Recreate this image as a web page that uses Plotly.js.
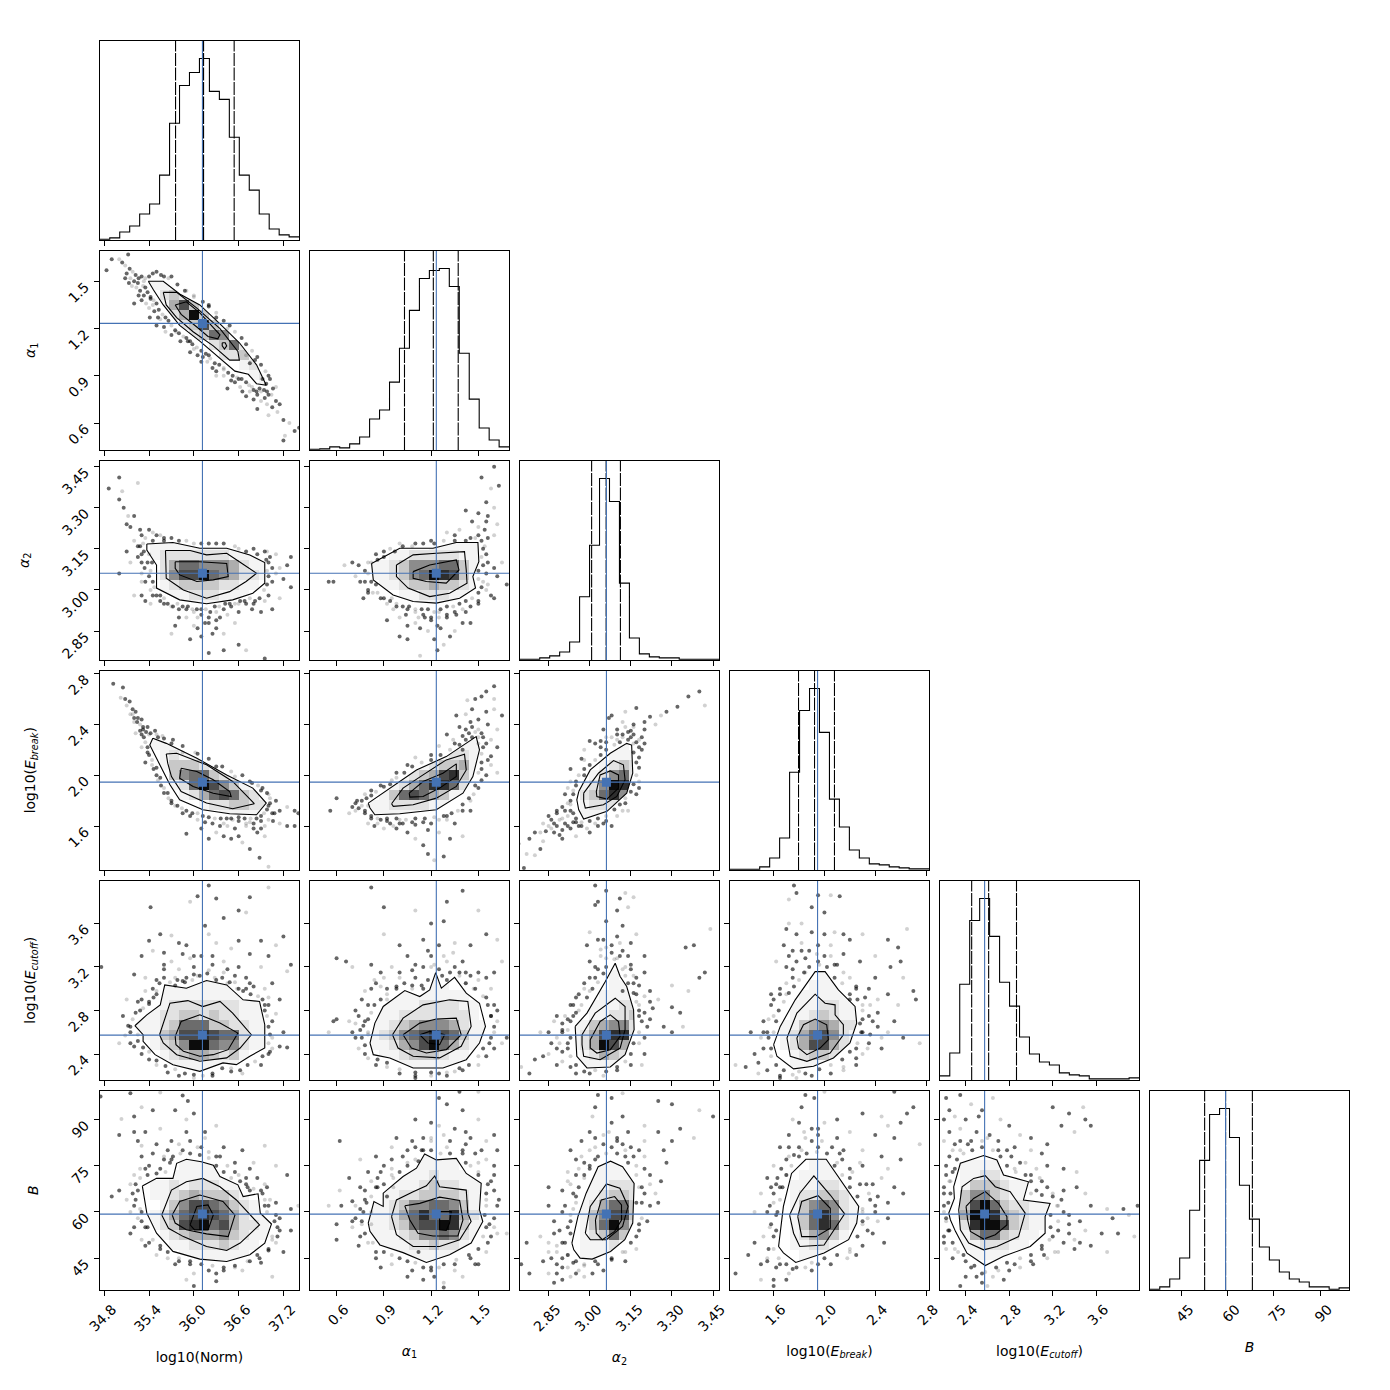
<!DOCTYPE html>
<html>
<head>
<meta charset="utf-8">
<script src="https://cdn.plot.ly/plotly-3.0.1.min.js"></script>
<style>html,body{margin:0;padding:0;background:#fff}</style>
</head>
<body>
<div id="graph"></div>
<script>
// parametros del corner plot
const names = ['log10(Norm)','<i>α</i><sub>1</sub>','<i>α</i><sub>2</sub>','log10(<i>E<sub>break</sub></i>)','log10(<i>E<sub>cutoff</sub></i>)','<i>B</i>'];
const lo = [34.74,0.43,2.745,1.255,2.162,34.7];
const hi = [37.41,1.695,3.472,2.824,3.994,99.4];
const truths = [36.115,1.233,3.061,1.946,2.574,59.3];
const tickVals = [[34.8,35.4,36.0,36.6,37.2],[0.6,0.9,1.2,1.5],[2.85,3.0,3.15,3.3,3.45],[1.6,2.0,2.4,2.8],[2.4,2.8,3.2,3.6],[45,60,75,90]];
const tickText = [['34.8','35.4','36.0','36.6','37.2'],['0.6','0.9','1.2','1.5'],['2.85','3.00','3.15','3.30','3.45'],['1.6','2.0','2.4','2.8'],['2.4','2.8','3.2','3.6'],['45','60','75','90']];

// histogramas (altura relativa, 20 bins)
const hist0 = [2,6,24,42,78,108,195,351,465,504,546,447,423,309,195,150,78,33,15,9];
const hist1 = [2,3,9,6,18,39,93,120,204,306,420,516,540,546,492,291,153,66,30,9];
const hist2 = [2,2,6,12,24,54,190,345,546,477,231,66,18,9,6,6,2,2,2,2];
const hist3 = [2,2,2,9,36,96,294,480,546,414,213,129,60,36,18,15,9,6,3,3];
const hist4 = [12,81,288,480,546,432,294,222,129,78,54,45,21,15,12,3,3,3,3,6];
const hist5 = [2,9,33,96,240,390,528,546,459,315,213,129,90,54,33,24,9,9,2,6];
const quant0 = [35.755,36.13,36.54];
const quant1 = [1.031,1.214,1.372];
const quant2 = [3.007,3.06,3.112];
const quant3 = [1.796,1.922,2.079];
const quant4 = [2.455,2.611,2.867];
const quant5 = [52.5,59.3,68.0];

// densidad 2d: [fila desde arriba, columna inicial, niveles 0-9]
const heat_1_0 = [[3,5,"111"],[4,6,"2321"],[5,6,"14731"],[6,7,"24931"],[7,8,"23731"],[8,9,"23651"],[9,11,"23621"],[10,12,"2231"],[11,14,"121"],[12,15,"12"],[13,16,"1"]];
const heat_2_0 = [[8,5,"11111111111"],[9,5,"12222222111"],[10,6,"24665554211"],[11,5,"125779654221"],[12,6,"1233332211"],[13,6,"111222111"],[14,8,"11111"]];
const heat_2_1 = [[8,12,"11111"],[9,8,"112222211"],[10,6,"11235556631"],[11,6,"11235698731"],[12,7,"1123343321"],[13,9,"1122211"],[14,10,"11111"]];
const heat_3_0 = [[7,5,"111"],[8,6,"1211"],[9,6,"133321"],[10,7,"3566321"],[11,7,"126975311"],[12,8,"124676321"],[13,10,"1223322"],[14,12,"1111"]];
const heat_3_1 = [[7,14,"111"],[8,13,"1221"],[9,11,"123341"],[10,9,"12347831"],[11,8,"124688621"],[12,7,"136764311"],[13,6,"11222211"],[14,6,"11111"]];
const heat_3_2 = [[7,10,"1"],[8,9,"111"],[9,8,"1232"],[10,7,"12562"],[11,6,"125982"],[12,6,"236851"],[13,6,"12221"],[14,6,"111"]];
const heat_4_0 = [[10,6,"11111111"],[11,5,"1111111111"],[12,5,"112222222111"],[13,4,"1122332322111"],[14,3,"11123666332211"],[15,4,"1134778766211"],[16,5,"123599655211"],[17,6,"123443231"],[18,7,"1111111"]];
const heat_4_1 = [[10,12,"11"],[11,8,"11111111"],[12,7,"1111222211"],[13,6,"11122222221"],[14,6,"112345554211"],[15,6,"123567876311"],[16,6,"11245796421"],[17,7,"112333211"],[18,8,"1111111"]];
const heat_4_2 = [[9,9,"1"],[10,9,"11"],[11,8,"1111"],[12,7,"11122"],[13,7,"11223"],[14,5,"1134552"],[15,5,"1247882"],[16,5,"1249741"],[17,6,"124321"],[18,6,"11111"]];
const heat_4_3 = [[9,9,"1"],[10,8,"1111"],[11,7,"111111"],[12,6,"11122111"],[13,6,"11232111"],[14,5,"113454221"],[15,5,"124675211"],[16,5,"12477421"],[17,6,"1233211"],[18,6,"11111"]];
const heat_5_0 = [[7,8,"1111"],[8,7,"111111"],[9,5,"1121222111"],[10,5,"1123433321"],[11,6,"1357765321"],[12,5,"124678764211"],[13,5,"123789674221"],[14,6,"12344453211"],[15,7,"112223211"],[16,8,"1111111"]];
const heat_5_1 = [[6,11,"11"],[7,10,"11111"],[8,8,"111121111"],[9,7,"11112322111"],[10,7,"11223333211"],[11,6,"112355665311"],[12,6,"112468668421"],[13,6,"112367798311"],[14,6,"11123556521"],[15,7,"111223221"],[16,9,"111111"]];
const heat_5_2 = [[7,8,"1111"],[8,7,"111111"],[9,7,"112221"],[10,6,"1123321"],[11,6,"1246631"],[12,6,"1357731"],[13,6,"1369521"],[14,6,"123631"],[15,6,"111211"],[16,6,"1111"]];
const heat_5_3 = [[7,8,"111"],[8,7,"11111"],[9,6,"1112211"],[10,6,"12233211"],[11,6,"13565211"],[12,6,"1368521"],[13,6,"1368621"],[14,6,"124531"],[15,6,"11221"],[16,7,"111"]];
const heat_5_4 = [[7,2,"1111"],[8,2,"11221"],[9,2,"1333211"],[10,2,"35532111"],[11,2,"379632211"],[12,2,"499843211"],[13,2,"289973211"],[14,2,"14663211"],[15,2,"1122211"],[16,3,"1111"]];

// contornos
const cont_1_0 = [
 [[35.39,1.5],[35.59,1.5],[35.81,1.42],[36.08,1.35],[36.35,1.23],[36.61,1.11],[36.84,.97],[36.97,.84],[36.84,.85],[36.73,.91],[36.55,.93],[36.3,1.03],[36.08,1.12],[35.81,1.22],[35.59,1.35],[35.46,1.445],[35.39,1.5]],
 [[35.59,1.43],[35.77,1.43],[36.04,1.33],[36.35,1.2],[36.59,1.055],[36.61,1.0],[36.48,1.0],[36.26,1.09],[35.99,1.18],[35.77,1.27],[35.63,1.35],[35.59,1.43]],
 [[35.75,1.35],[35.9,1.37],[36.08,1.3],[36.21,1.234],[36.35,1.16],[36.32,1.135],[36.19,1.15],[36.04,1.21],[35.83,1.29],[35.75,1.35]],
 [[36.38,1.11],[36.42,1.11],[36.44,1.09],[36.41,1.07],[36.38,1.09],[36.38,1.11]]];
const cont_2_0 = [
 [[35.37,3.168],[35.72,3.173],[36.08,3.152],[36.44,3.152],[36.75,3.128],[36.95,3.1],[36.95,3.025],[36.79,2.988],[36.52,2.964],[36.17,2.95],[35.81,2.964],[35.5,3.007],[35.5,3.091],[35.37,3.146],[35.37,3.168]],
 [[35.62,3.144],[35.95,3.144],[36.17,3.128],[36.44,3.134],[36.61,3.103],[36.84,3.061],[36.7,3.031],[36.48,2.994],[36.17,2.97],[35.86,3.0],[35.63,3.043],[35.62,3.144]],
 [[35.75,3.103],[36.08,3.103],[36.44,3.097],[36.46,3.049],[36.26,3.037],[36.04,3.031],[35.81,3.055],[35.75,3.079],[35.75,3.103]]];
const cont_2_1 = [
 [[.822,3.097],[1.001,3.152],[1.212,3.152],[1.36,3.173],[1.497,3.173],[1.503,3.103],[1.465,3.049],[1.482,3.007],[1.381,2.97],[1.233,2.952],[1.086,2.958],[.959,2.982],[.833,3.037],[.822,3.097]],
 [[.98,3.091],[1.086,3.128],[1.233,3.134],[1.412,3.14],[1.423,3.073],[1.428,3.025],[1.317,2.988],[1.191,2.976],[1.054,3.007],[.98,3.049],[.98,3.091]],
 [[1.086,3.067],[1.191,3.091],[1.36,3.11],[1.377,3.073],[1.296,3.025],[1.17,3.031],[1.086,3.043],[1.086,3.067]]];
const cont_3_0 = [
 [[35.45,2.291],[35.63,2.251],[36.04,2.134],[36.44,2.003],[36.79,1.899],[36.97,1.781],[36.84,1.689],[36.48,1.697],[36.12,1.728],[35.81,1.807],[35.68,1.925],[35.5,2.134],[35.41,2.238],[35.45,2.291]],
 [[35.63,2.168],[35.77,2.173],[36.17,2.082],[36.52,1.951],[36.81,1.776],[36.52,1.736],[36.17,1.781],[35.83,1.872],[35.7,1.99],[35.65,2.095],[35.63,2.168]],
 [[35.83,2.055],[36.04,2.029],[36.26,1.964],[36.48,1.872],[36.5,1.833],[36.26,1.859],[35.99,1.912],[35.81,1.977],[35.83,2.055]]];
const cont_3_1 = [
 [[.801,1.781],[.938,1.899],[1.107,2.042],[1.296,2.147],[1.486,2.304],[1.507,2.2],[1.465,1.99],[1.402,1.859],[1.233,1.728],[1.001,1.697],[.843,1.689],[.812,1.742],[.801,1.781]],
 [[.949,1.776],[1.022,1.899],[1.149,2.003],[1.296,2.121],[1.412,2.165],[1.423,2.042],[1.36,1.912],[1.233,1.82],[1.086,1.768],[.96,1.755],[.949,1.776]],
 [[1.061,1.859],[1.149,1.951],[1.275,2.016],[1.36,2.09],[1.36,1.99],[1.254,1.899],[1.149,1.833],[1.065,1.828],[1.061,1.859]]];
const cont_3_2 = [
 [[2.96,1.872],[3.002,2.042],[3.075,2.173],[3.135,2.251],[3.153,2.238],[3.157,2.016],[3.135,1.859],[3.063,1.716],[2.978,1.655],[2.96,1.728],[2.953,1.807],[2.96,1.872]],
 [[2.978,1.859],[3.032,2.016],[3.087,2.116],[3.123,2.082],[3.129,1.964],[3.099,1.833],[3.05,1.768],[2.984,1.742],[2.978,1.794],[2.978,1.859]],
 [[3.024,1.872],[3.038,2.003],[3.075,2.034],[3.105,2.003],[3.105,1.899],[3.063,1.812],[3.026,1.833],[3.024,1.872]]];
const cont_4_0 = [
 [[35.21,2.66],[35.37,2.76],[35.55,2.852],[35.61,3.035],[35.9,3.005],[36.17,3.075],[36.44,3.035],[36.66,2.898],[36.88,2.883],[36.95,2.669],[36.95,2.455],[36.75,2.379],[36.57,2.302],[36.39,2.318],[36.08,2.241],[35.72,2.302],[35.48,2.394],[35.32,2.516],[35.32,2.577],[35.21,2.66]],
 [[35.54,2.577],[35.68,2.867],[35.92,2.891],[36.12,2.836],[36.35,2.883],[36.52,2.776],[36.77,2.577],[36.62,2.455],[36.44,2.364],[36.08,2.333],[35.77,2.394],[35.59,2.501],[35.54,2.577]],
 [[35.75,2.562],[35.83,2.699],[36.08,2.76],[36.35,2.684],[36.59,2.592],[36.46,2.44],[36.26,2.394],[36.08,2.379],[35.86,2.425],[35.76,2.486],[35.75,2.562]]];
const cont_4_1 = [
 [[.812,2.501],[.843,2.684],[.896,2.837],[1.033,2.983],[1.128,2.928],[1.191,2.989],[1.229,3.148],[1.265,3.005],[1.349,3.105],[1.423,2.959],[1.507,2.867],[1.545,2.654],[1.507,2.501],[1.423,2.348],[1.275,2.272],[1.086,2.272],[.938,2.364],[.833,2.394],[.812,2.501]],
 [[.955,2.577],[1.022,2.73],[1.149,2.852],[1.317,2.898],[1.433,2.883],[1.454,2.654],[1.391,2.471],[1.254,2.364],[1.086,2.379],[.99,2.455],[.955,2.577]],
 [[1.022,2.577],[1.128,2.684],[1.233,2.721],[1.36,2.73],[1.391,2.577],[1.296,2.44],[1.17,2.409],[1.075,2.455],[1.022,2.577]],
 [[1.128,2.577],[1.191,2.608],[1.286,2.577],[1.254,2.486],[1.18,2.501],[1.128,2.577]]];
const cont_4_2 = [
 [[2.947,2.654],[2.99,2.776],[3.057,3.066],[3.093,3.234],[3.111,3.112],[3.135,3.02],[3.16,2.806],[3.162,2.623],[3.129,2.394],[3.075,2.281],[2.99,2.272],[2.953,2.379],[2.947,2.654]],
 [[2.972,2.577],[3.02,2.776],[3.093,2.913],[3.129,2.837],[3.129,2.623],[3.111,2.455],[3.038,2.348],[2.978,2.379],[2.972,2.486],[2.972,2.577]],
 [[3.002,2.531],[3.038,2.699],[3.075,2.76],[3.105,2.699],[3.111,2.562],[3.075,2.44],[3.026,2.409],[3.002,2.455],[3.002,2.531]]];
const cont_4_3 = [
 [[1.6,2.486],[1.652,2.654],[1.77,2.898],[1.875,3.066],[1.927,3.157],[2.005,3.157],[2.11,2.989],[2.241,2.837],[2.254,2.684],[2.201,2.501],[2.071,2.363],[1.914,2.287],[1.757,2.263],[1.626,2.379],[1.6,2.486]],
 [[1.705,2.547],[1.783,2.776],[1.927,2.95],[2.005,2.867],[2.084,2.852],[2.084,2.76],[2.149,2.669],[2.149,2.577],[2.045,2.409],[1.862,2.333],[1.731,2.379],[1.705,2.547]],
 [[1.783,2.547],[1.835,2.669],[1.927,2.721],[2.018,2.669],[2.031,2.531],[1.966,2.455],[1.862,2.394],[1.796,2.455],[1.783,2.547]]];
const cont_5_0 = [
 [[35.31,68.4],[35.5,70.9],[35.72,70.9],[35.77,75.8],[35.9,77.1],[36.1,76.3],[36.26,75.2],[36.35,71.5],[36.59,68.8],[36.66,65],[36.86,65.9],[36.89,59.6],[37.04,56.1],[36.95,49.9],[36.75,46.1],[36.44,43.9],[36.08,44.7],[35.72,47.2],[35.5,53.1],[35.37,59.6],[35.31,68.4]],
 [[35.57,59],[35.7,67.1],[35.9,69.8],[36.12,70.9],[36.35,68.2],[36.57,63.9],[36.88,55.8],[36.62,49.9],[36.44,47.5],[36.17,48.8],[35.86,52],[35.66,54.7],[35.57,59]],
 [[35.71,59],[35.81,63.4],[36.08,65.5],[36.39,63.4],[36.55,59],[36.46,52],[36.17,52.9],[35.9,54.2],[35.75,56.4],[35.71,59]],
 [[35.95,55.8],[36.04,61.8],[36.19,62.3],[36.26,59],[36.19,54.2],[36.01,54.2],[35.95,55.8]]];
const cont_5_1 = [
 [[.801,56.4],[.837,63.4],[.896,61.8],[.896,66.1],[1.022,71.5],[1.107,74.2],[1.159,78.8],[1.233,76.9],[1.36,77.4],[1.423,72.5],[1.518,69.3],[1.507,60.7],[1.528,56.9],[1.454,49.9],[1.317,46.1],[1.17,43.6],[1.022,46.8],[.875,49.3],[.812,53.7],[.801,56.4]],
 [[.949,58.5],[.98,63.9],[1.086,66.6],[1.17,68.5],[1.223,71.7],[1.254,68.2],[1.423,67.1],[1.433,59.6],[1.454,56.9],[1.381,51],[1.254,48.8],[1.086,48.8],[.98,52.6],[.949,58.5]],
 [[1.033,62],[1.128,62.8],[1.254,64.8],[1.381,63.7],[1.402,57.4],[1.37,52.2],[1.212,52.2],[1.117,53.1],[1.065,57.4],[1.033,62]],
 [[1.254,60.1],[1.328,60.1],[1.317,56.4],[1.296,54],[1.254,54.2],[1.254,60.1]]];
const cont_5_2 = [
 [[2.935,49.9],[2.957,58.5],[2.987,66.1],[3.031,74.7],[3.076,76.5],[3.12,74.7],[3.162,69.3],[3.16,59.6],[3.157,56.4],[3.128,51],[3.076,47.2],[3.009,44.7],[2.965,45],[2.942,47.7],[2.935,49.9]],
 [[2.984,53.1],[3.002,61.8],[3.061,69.1],[3.11,67.7],[3.14,61.8],[3.12,55.3],[3.061,51],[3.002,51],[2.984,53.1]],
 [[3.021,57.4],[3.042,63.9],[3.091,65],[3.116,62.3],[3.116,57.4],[3.091,53.7],[3.046,51],[3.024,53.1],[3.021,57.4]]];
const cont_5_3 = [
 [[1.639,48.8],[1.677,61.8],[1.741,72.5],[1.854,77.1],[2.014,77.1],[2.126,70.4],[2.27,61.8],[2.254,56.4],[2.19,51],[1.997,46.7],[1.774,43.6],[1.677,46.7],[1.639,48.8]],
 [[1.726,59],[1.806,66.1],[1.917,71.7],[2.046,65.5],[2.159,59.4],[2.061,53.1],[1.997,49.3],[1.806,48.8],[1.757,53.1],[1.726,59]],
 [[1.79,58.5],[1.821,63.4],[1.95,65.3],[2.046,61.2],[2.046,54.7],[1.934,52],[1.821,52],[1.79,58.5]]];
const cont_5_4 = [
 [[2.244,59.6],[2.296,64.4],[2.29,68.2],[2.351,75.8],[2.565,78.3],[2.687,76.9],[2.748,72],[2.977,69.8],[2.931,63.9],[3.176,62.8],[3.13,58.5],[3.13,53.1],[2.993,48.8],[2.748,45.6],[2.58,42.6],[2.412,46.6],[2.306,53.7],[2.26,57.4],[2.244,59.6]],
 [[2.336,60.7],[2.367,68.2],[2.473,70.9],[2.58,71.8],[2.672,68.2],[2.809,66.6],[2.947,59.6],[2.886,52],[2.687,48.8],[2.565,47.7],[2.428,49.9],[2.351,54.2],[2.336,60.7]],
 [[2.403,61.8],[2.473,64.4],[2.58,66.6],[2.702,62.8],[2.779,58.5],[2.779,55.8],[2.672,52.6],[2.565,51.2],[2.443,53.7],[2.418,57.4],[2.403,61.8]]];

// puntos fuera del contorno externo
const pts_1_0 = [[34.9,1.64],[35.12,1.67],[35.0,1.64],[35.04,1.62],[34.83,1.57],[35.08,1.6],[35.14,1.58],[35.1,1.55],[35.18,1.56],[35.22,1.54],[35.2,1.5],[35.15,1.52],[35.26,1.52],[35.3,1.53],[35.35,1.52],[35.13,1.49],[35.08,1.52],[35.23,1.46],[35.28,1.44],[35.33,1.41],[35.36,1.36],[35.2,1.36],[35.42,1.39],[35.4,1.33],[35.47,1.31],[35.52,1.27],[35.55,1.26],[35.6,1.21],[35.7,1.16],[35.76,1.18],[35.82,1.12],[35.9,1.14],[36.0,1.07],[36.05,1.03],[36.1,.99],[36.18,.99],[36.25,.95],[36.3,.93],[36.4,.9],[36.5,.87],[36.55,.86],[36.62,.83],[36.65,.8],[36.7,.77],[36.75,.8],[36.8,.75],[36.85,.78],[36.9,.74],[36.95,.76],[37.0,.78],[36.98,.72],[37.05,.7],[37.1,.74],[37.12,.67],[37.15,.72],[37.2,.62],[37.28,.6],[37.35,.55],[37.41,.57],[37.22,.52],[37.2,.49],[36.97,.85],[37.1,.83],[37.02,.88],[36.92,.88],[36.7,1.03],[36.75,.98],[36.82,1.0],[36.45,1.2],[36.3,1.27],[36.2,1.35],[35.9,1.44],[35.7,1.53],[35.5,1.56],[36.0,1.4],[35.6,1.53],[35.45,1.55],[35.32,1.47],[35.41,1.27],[35.5,1.22],[35.62,1.18],[35.95,1.05],[36.12,1.02],[36.3,.9],[36.45,.82],[36.6,.88],[36.78,.83],[36.88,.82],[36.85,.69],[37.0,.65],[35.95,1.12],[36.2,1.03],[36.4,.95]];
const pts_2_0 = [[34.86,3.37],[35.0,3.41],[35.04,3.36],[35.0,3.33],[35.06,3.3],[35.12,3.27],[35.1,3.24],[35.15,3.23],[35.25,3.39],[35.2,3.27],[35.28,3.22],[35.35,3.19],[35.3,3.2],[35.4,3.22],[35.45,3.21],[35.5,3.2],[35.6,3.19],[35.55,3.2],[35.7,3.19],[35.8,3.18],[36.0,3.17],[36.2,3.17],[36.4,3.17],[36.6,3.15],[36.8,3.15],[36.95,3.14],[35.2,3.18],[35.1,3.14],[35.0,3.06],[35.15,3.1],[35.25,3.12],[35.3,3.1],[35.3,3.06],[35.35,3.03],[35.4,3.05],[35.42,3.0],[35.45,2.98],[35.3,2.98],[35.2,2.98],[35.55,2.96],[35.6,2.95],[35.7,2.94],[35.8,2.93],[35.9,2.93],[36.0,2.92],[36.1,2.91],[36.2,2.9],[36.3,2.92],[36.4,2.93],[36.5,2.94],[36.6,2.95],[36.7,2.95],[36.8,2.95],[36.95,2.96],[37.0,2.98],[37.05,3.03],[37.1,3.06],[37.0,3.1],[37.05,3.08],[37.15,3.08],[37.25,3.09],[37.3,3.12],[37.1,3.13],[37.2,3.04],[37.3,3.01],[37.15,2.97],[37.05,2.93],[36.9,2.92],[36.0,2.87],[36.1,2.83],[36.3,2.86],[36.4,2.84],[36.4,2.78],[36.6,2.8],[36.55,2.88],[35.95,2.82],[36.2,2.77],[36.7,2.78],[36.95,2.75],[35.75,2.87],[35.7,2.84],[36.15,2.88],[36.25,2.84]];
const pts_2_1 = [[1.6,3.45],[1.63,3.38],[1.58,3.37],[1.52,3.41],[1.55,3.32],[1.6,3.3],[1.5,3.28],[1.55,3.25],[1.62,3.24],[1.46,3.25],[1.42,3.29],[1.38,3.22],[1.5,3.2],[1.56,3.19],[1.6,3.2],[1.45,3.19],[1.35,3.2],[1.3,3.21],[1.2,3.18],[1.1,3.17],[1.0,3.17],[.9,3.14],[.85,3.13],[.8,3.1],[.74,3.09],[.7,3.1],[.65,3.09],[.55,3.03],[.58,3.03],[.72,3.05],[.78,3.03],[.8,3.0],[.83,2.99],[.77,2.97],[.88,2.97],[.92,2.95],[.98,2.94],[1.05,2.93],[1.1,2.92],[1.15,2.91],[1.2,2.9],[1.25,2.92],[1.3,2.9],[1.35,2.92],[1.4,2.93],[1.45,2.94],[1.5,2.96],[1.55,3.0],[1.58,2.98],[1.6,2.97],[1.53,3.03],[1.55,3.06],[1.6,3.08],[1.65,3.1],[1.62,3.05],[1.55,3.13],[1.54,3.16],[1.68,3.02],[1.13,2.86],[1.18,2.85],[1.22,2.82],[1.26,2.86],[1.35,2.85],[1.4,2.88],[1.05,2.87],[1.0,2.9],[.92,2.89],[1.05,2.82],[1.13,2.76],[1.16,2.72],[1.24,2.78],[1.28,2.8],[1.32,2.83],[1.45,2.88],[.95,2.97],[1.0,2.83]];
const pts_3_0 = [[34.92,2.72],[35.05,2.69],[35.02,2.61],[35.08,2.6],[35.14,2.58],[35.1,2.55],[35.18,2.52],[35.22,2.5],[35.15,2.48],[35.25,2.45],[35.3,2.44],[35.2,2.42],[35.32,2.38],[35.38,2.38],[35.22,2.33],[35.3,2.32],[35.42,2.33],[35.5,2.32],[35.6,2.29],[35.7,2.25],[35.85,2.18],[36.05,2.17],[36.3,2.07],[36.55,1.99],[36.75,1.95],[36.9,1.88],[35.3,2.22],[35.38,2.18],[35.35,2.1],[35.44,2.08],[35.5,2.0],[35.55,1.98],[35.6,1.9],[35.65,1.86],[35.7,1.8],[35.75,1.76],[35.85,1.7],[35.95,1.68],[36.05,1.65],[36.15,1.63],[36.25,1.62],[36.4,1.62],[36.5,1.66],[36.6,1.64],[36.7,1.62],[36.8,1.62],[36.9,1.64],[37.0,1.65],[37.05,1.7],[37.02,1.78],[37.0,1.85],[37.1,1.8],[37.15,1.72],[37.25,1.75],[37.35,1.72],[37.4,1.7],[37.15,1.62],[37.25,1.6],[37.35,1.6],[36.95,1.6],[36.6,1.52],[36.5,1.5],[36.3,1.55],[36.2,1.5],[36.4,1.52],[36.65,1.47],[36.75,1.42],[36.88,1.35],[37.0,1.28],[35.9,1.54],[36.85,1.55],[36.95,1.52],[36.1,1.58],[36.55,1.58]];
const pts_3_1 = [[1.6,2.7],[1.55,2.66],[1.6,2.6],[1.52,2.62],[1.48,2.6],[1.43,2.59],[1.46,2.52],[1.55,2.5],[1.6,2.52],[1.65,2.47],[1.5,2.44],[1.42,2.48],[1.45,2.42],[1.56,2.4],[1.62,2.36],[1.36,2.47],[1.38,2.38],[1.48,2.34],[1.4,2.31],[1.53,2.3],[1.58,2.28],[1.62,2.22],[1.3,2.32],[1.25,2.23],[1.35,2.25],[1.2,2.16],[1.1,2.14],[1.05,2.08],[.98,2.02],[.95,1.96],[.88,1.92],[.82,1.88],[.78,1.85],[.76,1.8],[.7,1.75],[.68,1.7],[.6,1.82],[.56,1.72],[.72,1.72],[.78,1.7],[.82,1.68],[.8,1.62],[.88,1.65],[.92,1.64],[1.0,1.65],[1.08,1.63],[1.15,1.63],[1.25,1.65],[1.3,1.68],[1.4,1.72],[1.45,1.8],[1.5,1.9],[1.55,2.0],[1.58,2.08],[1.52,2.05],[1.58,2.15],[1.62,2.02],[1.45,1.72],[1.35,1.62],[.9,1.58],[.98,1.58],[1.05,1.55],[1.1,1.5],[1.15,1.45],[1.18,1.38],[1.22,1.33],[1.28,1.36],[1.32,1.5],[1.4,1.52],[1.02,1.62],[1.18,1.57],[1.25,1.55]];
const pts_3_2 = [[3.4,2.66],[3.36,2.62],[3.42,2.55],[3.32,2.54],[3.28,2.5],[3.26,2.47],[3.22,2.46],[3.2,2.42],[3.13,2.5],[3.08,2.47],[3.17,2.53],[3.24,2.4],[3.2,2.36],[3.16,2.4],[3.12,2.42],[3.07,2.45],[3.15,2.3],[3.18,2.28],[3.14,2.34],[3.1,2.36],[3.06,2.3],[3.05,2.36],[3.02,2.25],[2.98,2.2],[2.97,2.13],[2.93,2.05],[2.98,2.12],[3.0,2.27],[2.95,1.95],[2.92,1.9],[2.93,1.8],[2.93,1.72],[2.9,1.66],[2.88,1.6],[2.85,1.68],[2.83,1.62],[2.8,1.55],[2.87,1.55],[2.83,1.48],[2.78,1.5],[2.82,1.42],[2.77,1.38],[2.76,1.27],[2.74,1.46],[2.8,1.37],[2.92,1.6],[2.96,1.6],[2.99,1.58],[3.03,1.6],[3.06,1.64],[3.1,1.68],[3.13,1.78],[3.17,1.85],[3.18,1.95],[3.17,2.1],[3.19,2.2],[3.16,2.25],[3.12,2.32],[3.0,1.55],[2.95,1.52],[3.08,1.6],[2.9,1.5],[3.14,1.72],[2.95,1.63],[2.91,1.72],[2.94,1.88],[2.98,2.0],[3.04,2.22],[3.1,2.28],[3.16,2.18],[2.88,1.7],[2.86,1.58],[2.9,1.57]];
const pts_4_0 = [[35.42,3.75],[36.2,3.95],[37.0,3.93],[36.75,3.84],[36.05,3.85],[35.95,3.8],[36.3,3.83],[36.6,3.72],[36.7,3.7],[36.4,3.65],[36.15,3.58],[36.2,3.5],[35.4,3.44],[35.55,3.5],[35.7,3.49],[35.8,3.42],[35.9,3.4],[36.3,3.42],[36.6,3.44],[36.9,3.44],[37.1,3.4],[37.2,3.48],[35.3,3.3],[35.45,3.35],[35.6,3.33],[36.0,3.3],[36.5,3.37],[36.75,3.32],[37.0,3.3],[37.25,3.16],[37.3,3.22],[35.2,3.13],[35.35,3.1],[35.5,3.08],[35.6,3.18],[35.75,3.1],[35.85,3.07],[36.0,3.13],[36.2,3.17],[36.3,3.08],[36.45,3.18],[36.55,3.06],[36.7,3.1],[36.8,3.02],[36.9,3.2],[37.05,3.05],[37.15,2.9],[37.0,2.92],[36.95,2.8],[37.05,2.7],[37.1,2.77],[35.4,2.88],[35.25,2.88],[35.1,2.9],[35.05,2.75],[35.15,2.65],[35.08,2.57],[35.15,2.5],[35.2,2.47],[35.0,2.5],[35.3,2.4],[35.4,2.35],[35.5,2.3],[35.65,2.23],[35.8,2.2],[36.0,2.18],[36.25,2.2],[36.5,2.24],[36.65,2.22],[36.9,2.3],[37.0,2.4],[37.05,2.45],[37.15,2.47],[37.25,2.46],[37.05,2.55],[37.2,2.6],[36.7,3.0],[36.4,3.15],[35.75,3.03],[35.9,3.1],[36.05,3.12],[36.6,3.0],[35.5,2.95],[35.35,2.98],[34.76,3.2]];
const pts_4_1 = [[.82,3.93],[.9,3.75],[1.1,3.72],[1.3,3.8],[1.4,3.9],[1.5,3.72],[1.28,3.62],[1.2,3.6],[.9,3.5],[1.0,3.4],[1.15,3.45],[1.35,3.42],[1.45,3.4],[1.55,3.5],[1.62,3.45],[.6,3.28],[.66,3.25],[.7,3.2],[.82,3.22],[.88,3.15],[.95,3.2],[1.08,3.17],[1.2,3.3],[1.3,3.25],[1.35,3.2],[1.42,3.15],[1.5,3.08],[1.55,3.1],[1.6,3.15],[1.65,3.25],[.85,3.05],[.92,3.0],[1.0,3.1],[1.08,3.03],[1.15,3.0],[1.2,3.2],[1.3,3.08],[1.38,3.15],[1.47,3.0],[1.55,2.92],[1.6,2.85],[.78,2.98],[.8,2.85],[.72,2.8],[.68,2.7],[.75,2.62],[.78,2.7],[.8,2.6],[.72,2.55],[.6,2.72],[.74,2.45],[.78,2.4],[.85,2.3],[.92,2.28],[1.0,2.22],[1.1,2.18],[1.2,2.2],[1.3,2.2],[1.4,2.25],[1.5,2.3],[1.55,2.38],[1.6,2.45],[1.65,2.5],[1.58,2.55],[1.6,2.65],[1.62,2.7],[1.68,2.55],[1.58,2.75],[.92,2.9],[.98,3.02],[1.25,3.18],[1.42,3.05],[1.1,3.1],[.58,2.7],[.55,2.6]];
const pts_4_2 = [[3.02,3.95],[3.06,3.9],[3.13,3.88],[3.11,3.83],[3.03,3.8],[3.16,3.84],[3.02,3.77],[3.1,3.72],[3.14,3.75],[3.06,3.62],[3.12,3.58],[3.0,3.52],[2.99,3.4],[3.03,3.45],[3.06,3.38],[3.1,3.48],[3.15,3.42],[3.17,3.5],[3.2,3.3],[3.12,3.35],[3.04,3.3],[3.0,3.25],[3.03,3.18],[3.1,3.28],[3.15,3.22],[3.2,3.15],[3.16,3.12],[3.02,3.1],[2.98,3.05],[3.0,2.98],[2.96,2.95],[2.94,2.85],[3.12,3.18],[3.16,3.05],[3.17,2.95],[3.18,2.85],[3.18,2.75],[3.22,2.88],[3.25,2.9],[3.3,2.83],[3.33,2.78],[3.36,2.98],[3.4,3.1],[3.42,3.15],[3.44,3.55],[3.38,3.4],[3.35,3.38],[3.3,3.03],[3.27,2.65],[3.3,2.6],[3.34,2.65],[3.2,2.55],[3.2,2.4],[3.19,2.3],[3.15,2.3],[3.1,2.25],[3.05,2.2],[3.0,2.22],[2.95,2.22],[2.9,2.33],[2.88,2.45],[2.92,2.5],[2.88,2.55],[2.9,2.62],[2.85,2.6],[2.82,2.6],[2.92,2.72],[2.94,2.75],[2.87,2.7],[2.8,2.35],[2.83,2.38],[2.75,2.28],[2.78,2.22],[2.88,2.75],[2.96,2.8],[3.22,2.98],[3.12,2.98]];
const pts_4_3 = [[1.76,3.95],[1.78,3.88],[1.72,3.82],[1.9,3.75],[1.95,3.86],[2.05,3.86],[2.12,3.85],[2.0,3.7],[1.72,3.6],[1.7,3.55],[1.78,3.5],[1.82,3.6],[1.9,3.52],[2.0,3.5],[2.08,3.52],[2.15,3.5],[2.2,3.45],[2.3,3.5],[2.5,3.45],[2.58,3.38],[2.65,3.55],[1.68,3.4],[1.75,3.35],[1.82,3.42],[1.88,3.35],[1.95,3.4],[2.05,3.4],[2.15,3.32],[2.28,3.25],[2.4,3.3],[2.52,3.2],[2.6,3.25],[1.62,3.25],[1.7,3.2],[1.78,3.25],[1.85,3.15],[1.95,3.25],[2.1,3.22],[2.2,3.1],[2.25,3.02],[2.35,3.0],[2.42,2.9],[2.5,2.95],[2.4,3.1],[2.62,3.1],[2.7,2.98],[2.72,2.9],[2.58,2.85],[2.35,2.75],[2.42,2.65],[2.5,2.6],[2.55,2.7],[2.62,2.55],[2.75,2.5],[2.45,2.45],[2.35,2.5],[2.3,2.4],[2.25,2.45],[2.25,2.3],[2.15,2.25],[2.05,2.22],[1.9,2.2],[1.78,2.18],[1.65,2.2],[1.55,2.25],[1.48,2.22],[1.38,2.28],[1.45,2.4],[1.5,2.55],[1.55,2.6],[1.52,2.7],[1.6,2.75],[1.6,2.9],[1.65,3.0],[1.7,2.95],[1.75,3.1],[2.2,2.9],[2.3,2.85],[2.3,2.6],[1.42,2.6],[1.3,2.3]];
const pts_5_0 = [[34.75,97.5],[35.15,98.5],[35.55,98.8],[35.85,97.8],[35.92,96],[35.3,94],[35.45,93],[35.75,93],[35.9,90],[36.0,92],[35.2,91],[35.03,90.2],[35.2,86],[35.35,86],[35.55,87],[35.9,86],[36.15,86],[36.3,88],[35.0,85],[35.25,83],[35.3,81.5],[35.5,82],[35.7,83],[36.05,81],[36.4,81],[36.65,80],[36.95,81.5],[35.3,78],[35.45,79],[35.6,78],[35.7,77],[35.85,80],[36.2,79.5],[36.35,78],[36.55,76],[36.8,76],[36.75,74],[36.55,73],[37.1,75],[36.85,71],[37.25,72],[36.6,72],[36.7,69],[36.9,67],[36.95,64],[37.0,62],[37.1,63],[36.95,69],[36.75,67],[37.3,61],[37.4,62],[37.1,59],[37.15,54],[37.05,52],[37.0,48],[36.85,46],[37.1,50],[37.2,47],[37.3,54],[35.28,74],[35.4,75],[35.55,74],[35.15,69],[35.0,67],[34.9,65],[35.1,64],[35.2,62],[35.3,60],[35.25,58],[35.35,55],[35.15,53],[35.3,51],[35.4,50],[35.55,48],[35.65,45],[35.8,44],[35.95,43],[36.0,40],[36.2,41],[36.4,41],[36.55,42],[36.75,44],[36.9,43.5],[37.05,39],[36.0,36],[36.3,37.5],[35.9,38]];
const pts_5_1 = [[1.25,97],[1.38,99],[1.5,99],[1.3,95],[1.4,93],[1.5,90],[1.2,89],[1.1,90],[1.25,88],[1.35,87],[1.45,84],[1.55,83],[1.6,85],[1.62,80],[1.2,84],[1.08,83],[.98,84],[.95,81],[1.05,80],[1.15,80],[1.3,81],[1.4,80],[1.48,79],[1.55,77],[1.6,75],[.62,83],[.75,77],[.85,78],[.95,77],[1.05,76],[1.12,76.5],[1.42,76],[1.5,73],[1.58,70],[.88,73],[.95,72],[.8,73],[.68,71],[.62,67],[.75,68],[.85,68],[.96,68],[.78,64],[.7,63.5],[.55,62],[.63,62],[.75,61],[.82,60],[.76,57],[.7,57],[.82,56],[.6,56],[.75,52],[.8,50],[.85,47],[.6,51],[.95,46],[1.05,44],[1.15,42],[1.25,42],[1.35,43],[1.45,45],[1.55,47],[1.58,52],[1.55,55],[1.62,53],[1.6,58],[1.62,62],[1.55,62],[1.55,66],[1.63,64],[1.68,53],[1.05,39],[1.15,38],[1.28,37],[1.28,35.5],[1.2,41],[1.4,39],[.88,42],[1.5,43]];
const pts_5_2 = [[3.03,98],[3.08,97],[3.12,98.5],[3.25,96],[3.3,95],[3.4,93],[3.45,91],[3.02,94],[3.01,91],[3.08,89],[3.12,91],[3.2,88],[3.25,86],[3.33,87],[3.38,84],[3.3,83],[3.0,86],[3.05,85],[3.1,84],[3.14,86],[3.2,83],[3.27,80],[2.97,83],[3.02,81],[3.08,81],[3.15,81],[3.2,78],[3.28,76],[2.93,80],[2.97,78],[3.03,78],[3.13,78],[3.17,75],[3.22,72],[3.26,70],[2.96,74],[2.98,72],[3.0,75],[2.92,70],[2.85,68],[2.94,66],[3.18,68],[3.2,66],[3.17,63],[2.95,63],[2.9,60],[2.85,62],[2.93,59],[2.92,55],[2.87,53],[2.82,52],[2.77,50],[2.9,50],[2.88,47],[2.92,46],[2.95,44],[2.98,43],[3.02,44],[3.08,45],[3.13,47],[3.17,52],[3.18,56],[2.85,47],[2.83,44],[2.88,43],[2.92,42],[2.95,40],[2.9,38],[2.85,40],[2.78,40],[2.75,43],[2.98,39],[2.87,37]];
const pts_5_3 = [[1.85,98],[1.92,97],[2.0,99],[2.55,99],[1.82,94],[1.75,90],[2.65,92],[2.7,94],[2.45,91],[1.8,89],[1.9,87],[2.0,89],[2.1,90],[2.3,92],[2.5,88],[2.6,89],[1.72,85],[1.85,84],[1.95,85],[2.1,84],[2.2,86],[2.4,85],[2.55,84],[2.75,82],[1.65,81],[1.72,81],[1.82,80],[1.95,81],[2.12,79],[2.3,80],[2.45,78],[2.6,77],[1.6,75],[1.7,77],[1.76,78.5],[2.1,76],[2.2,74],[2.3,75],[2.5,74],[1.55,71],[1.63,71],[1.7,72],[2.2,71],[2.33,69],[2.45,71],[2.55,68],[2.62,66],[1.5,66],[1.6,66],[1.65,68],[2.35,66],[2.42,65],[2.5,63],[1.45,60],[1.57,62],[1.62,59],[2.3,60],[2.4,60],[2.5,58],[1.57,55],[1.6,52],[1.45,50],[2.3,56],[2.38,53],[2.47,50],[2.2,47],[1.4,46],[1.5,43],[1.55,45],[1.65,43],[1.75,41.5],[1.85,42],[1.95,43],[1.7,38],[1.5,38],[1.6,36],[1.3,40]];
const pts_5_4 = [[2.22,97],[2.35,98],[2.65,97],[3.2,94],[3.35,92],[3.48,94],[3.5,90],[2.25,93],[2.45,95],[2.55,93],[2.2,90],[2.3,91],[2.4,90],[2.52,91],[2.72,90],[2.8,88],[3.28,88],[3.4,86],[3.55,88],[2.25,86],[2.35,87],[2.5,86],[2.62,85],[2.9,85],[3.0,84],[3.15,82],[2.2,83],[2.3,82],[2.42,82],[2.55,83],[2.7,83],[2.85,81],[3.0,80],[3.1,79],[2.25,78],[2.35,80],[2.7,80],[2.82,78],[2.95,76],[3.15,75],[3.3,74],[3.42,73],[2.22,75],[2.3,74],[2.85,74],[3.0,72],[3.1,70],[2.25,70],[2.2,66],[3.05,67],[3.2,66],[3.3,67],[3.42,68],[3.5,66],[2.2,62],[2.22,58],[3.25,62],[3.35,59],[3.55,62],[3.7,61],[3.85,61],[3.98,62],[3.9,59],[3.75,58],[3.45,57],[3.25,57],[3.2,52],[3.35,53],[3.5,54],[3.65,53],[3.8,53],[3.95,52],[2.25,54],[2.2,50],[2.3,48],[2.38,46],[3.1,48],[3.25,47],[3.4,48],[3.55,49],[3.7,47],[2.45,42],[2.55,40],[2.7,41],[2.85,43],[3.0,44],[3.15,45],[2.4,39],[2.55,37],[2.6,36],[2.75,38],[2.35,36]];

// puntos densos pegados al contorno externo
const near_1_0 = [[35.38,1.43],[35.42,1.4],[35.46,1.38],[35.5,1.36],[35.53,1.32],[35.58,1.29],[35.62,1.27],[35.66,1.25],[35.7,1.22],[35.75,1.19],[35.8,1.17],[35.86,1.15],[35.92,1.12],[35.98,1.1],[36.04,1.08],[36.1,1.06],[36.16,1.04],[36.22,1.01],[36.28,.98],[36.34,.97],[36.4,.94],[36.46,.92],[36.52,.9],[36.58,.89],[36.64,.88],[36.7,.86],[36.74,.84],[36.8,.81],[36.84,.8],[36.9,.8],[36.94,.81],[36.98,.8],[37.04,.78],[37.06,.82],[37.0,.9],[36.96,.93],[36.9,.97],[36.85,1.02],[36.78,1.06],[36.7,1.1],[36.64,1.14],[36.55,1.18],[36.48,1.22],[36.4,1.25],[36.3,1.3],[36.2,1.34],[36.12,1.37],[36.0,1.41],[35.88,1.44],[35.78,1.48],[35.66,1.52],[35.56,1.54],[35.4,1.53],[35.33,1.5],[35.35,1.46],[35.25,1.49],[35.17,1.47],[35.3,1.38],[35.26,1.41],[35.45,1.35]];
const near_2_0 = [[35.3,3.03],[35.34,3.08],[35.38,3.1],[35.42,3.07],[35.45,3.03],[35.44,3.1],[35.4,3.13],[35.33,3.14],[35.28,3.16],[35.47,3.01],[35.5,2.98],[35.55,2.98],[35.6,2.97],[35.65,2.95],[35.72,2.94],[35.78,2.95],[35.85,2.94],[35.92,2.94],[35.98,2.93],[36.04,2.93],[36.1,2.93],[36.16,2.93],[36.22,2.92],[36.28,2.94],[36.34,2.94],[36.42,2.95],[36.48,2.95],[36.55,2.95],[36.62,2.96],[36.68,2.96],[36.75,2.97],[36.82,2.96],[36.88,2.97],[36.94,3.0],[36.98,3.02],[37.0,3.05],[36.98,3.07],[37.02,3.12],[36.97,3.11],[36.98,3.14],[36.85,3.13],[36.7,3.14],[36.55,3.16],[36.3,3.17],[36.1,3.17],[35.9,3.18],[35.6,3.18],[35.45,3.18],[35.32,3.17],[35.25,3.16],[35.3,3.13],[36.05,2.9],[36.2,2.88],[36.35,2.9],[36.45,2.91],[36.6,2.92],[36.78,2.93],[35.9,2.9],[35.8,2.9],[35.35,2.96],[35.42,2.95],[36.05,2.86],[36.3,2.89]];
const near_2_1 = [[.78,3.07],[.8,3.06],[.82,3.03],[.85,3.02],[.82,3.1],[.86,3.11],[.9,3.12],[.94,3.15],[.75,3.03],[.8,2.99],[.86,2.99],[.9,2.97],[.94,2.96],[.98,2.95],[1.02,2.94],[1.06,2.94],[1.1,2.93],[1.14,2.93],[1.18,2.93],[1.22,2.92],[1.26,2.93],[1.3,2.94],[1.34,2.94],[1.38,2.95],[1.42,2.96],[1.46,2.97],[1.5,2.99],[1.52,3.01],[1.5,3.04],[1.5,3.07],[1.53,3.09],[1.52,3.12],[1.53,3.15],[1.52,3.18],[1.48,3.19],[1.42,3.18],[1.35,3.18],[1.28,3.18],[1.22,3.17],[1.15,3.17],[1.08,3.16],[1.02,3.16],[.97,3.14],[1.12,2.9],[1.16,2.9],[1.2,2.89],[1.25,2.9],[1.3,2.91],[1.36,2.91],[1.1,2.88],[1.24,2.87],[1.04,2.91],[.96,2.93],[1.42,2.92],[1.5,2.95],[1.56,3.02],[1.56,3.1],[1.54,3.22],[1.5,3.23],[1.56,3.27]];
const near_3_0 = [[35.18,2.48],[35.2,2.45],[35.24,2.42],[35.28,2.4],[35.32,2.36],[35.36,2.34],[35.4,2.32],[35.28,2.35],[35.33,2.3],[35.35,2.26],[35.38,2.22],[35.4,2.16],[35.44,2.12],[35.46,2.05],[35.5,2.06],[35.52,1.96],[35.56,1.92],[35.6,1.86],[35.66,1.82],[35.7,1.78],[35.78,1.76],[35.84,1.74],[35.9,1.72],[35.98,1.7],[36.05,1.7],[36.12,1.68],[36.2,1.67],[36.28,1.66],[36.36,1.66],[36.44,1.66],[36.52,1.65],[36.6,1.67],[36.68,1.66],[36.76,1.66],[36.84,1.66],[36.9,1.68],[36.94,1.7],[36.98,1.73],[37.0,1.76],[37.02,1.82],[36.98,1.86],[36.92,1.9],[36.86,1.92],[36.78,1.94],[36.65,2.0],[36.5,2.03],[36.38,2.07],[36.2,2.13],[36.02,2.18],[35.85,2.23],[35.72,2.28],[35.58,2.31],[35.48,2.35],[35.52,2.3],[36.7,1.6],[36.8,1.58],[36.9,1.58],[36.75,1.63],[37.08,1.7],[37.06,1.64],[36.45,1.6],[36.35,1.6]];
const near_3_1 = [[1.42,2.36],[1.46,2.38],[1.5,2.36],[1.44,2.33],[1.52,2.33],[1.5,2.3],[1.55,2.25],[1.53,2.22],[1.52,2.17],[1.56,2.12],[1.52,2.1],[1.5,2.02],[1.52,1.96],[1.48,1.92],[1.47,1.85],[1.44,1.82],[1.4,1.77],[1.37,1.72],[1.33,1.7],[1.28,1.68],[1.22,1.67],[1.16,1.66],[1.1,1.66],[1.04,1.65],[.98,1.66],[.92,1.66],[.86,1.66],[.82,1.66],[.78,1.72],[.76,1.76],[.79,1.82],[.82,1.84],[.85,1.87],[.9,1.91],[.94,1.93],[.98,1.98],[1.03,2.02],[1.08,2.07],[1.14,2.1],[1.2,2.12],[1.26,2.16],[1.32,2.2],[1.38,2.24],[1.42,2.28],[1.34,2.28],[1.46,2.3],[1.4,2.2],[1.5,2.25],[.74,1.74],[.73,1.8],[.8,1.76],[1.0,1.62],[1.1,1.61],[.86,1.62],[.94,1.62],[1.2,1.62],[1.3,1.65],[.72,1.78],[.84,1.6],[.96,1.6]];
const near_3_2 = [[3.16,2.32],[3.12,2.3],[3.17,2.26],[3.18,2.22],[3.16,2.38],[3.14,2.28],[3.11,2.26],[3.09,2.24],[3.06,2.2],[3.04,2.16],[3.02,2.12],[3.0,2.08],[2.98,2.05],[2.96,2.0],[2.95,1.92],[2.94,1.85],[2.93,1.77],[2.94,1.7],[2.95,1.66],[2.97,1.63],[3.0,1.64],[3.03,1.66],[3.06,1.68],[3.09,1.73],[3.11,1.77],[3.13,1.82],[3.15,1.87],[3.16,1.93],[3.17,2.0],[3.18,2.06],[3.18,2.14],[2.92,1.68],[2.94,1.63],[2.91,1.62],[2.89,1.65],[2.87,1.62],[2.9,1.75],[2.92,1.78],[2.88,1.72],[2.86,1.65],[2.85,1.6],[2.93,1.58],[2.97,1.6],[3.02,1.62],[3.19,2.3],[3.15,2.35],[3.13,2.38],[3.2,2.25],[3.1,2.32],[3.08,2.3],[3.06,2.26],[3.04,2.27],[2.93,1.95],[2.91,1.85],[2.84,1.56],[2.82,1.55],[2.89,1.53],[3.18,1.9],[3.12,1.72],[3.05,1.62]];
const near_4_0 = [[35.12,2.66],[35.18,2.72],[35.22,2.78],[35.28,2.8],[35.32,2.82],[35.4,2.86],[35.46,2.92],[35.5,2.98],[35.54,3.05],[35.6,3.1],[35.68,3.06],[35.78,3.08],[35.88,3.06],[35.98,3.08],[36.08,3.12],[36.18,3.14],[36.28,3.1],[36.38,3.1],[36.48,3.06],[36.58,3.0],[36.66,2.98],[36.76,2.95],[36.86,2.93],[36.92,2.9],[36.95,2.85],[36.98,2.75],[37.0,2.65],[37.02,2.58],[37.0,2.5],[37.02,2.42],[36.92,2.38],[36.82,2.33],[36.72,2.3],[36.62,2.25],[36.5,2.27],[36.38,2.27],[36.25,2.22],[36.12,2.2],[36.0,2.21],[35.88,2.22],[35.75,2.26],[35.62,2.29],[35.5,2.34],[35.4,2.42],[35.32,2.46],[35.25,2.52],[35.25,2.58],[35.15,2.6],[35.6,3.22],[35.8,3.18],[36.0,3.2],[36.25,3.22],[36.4,3.25],[36.55,3.12],[36.75,3.05],[36.95,3.0],[35.45,3.0],[35.3,2.9],[35.95,3.28],[36.1,3.3],[36.6,3.2],[35.7,3.25],[35.85,3.32],[36.25,3.3],[36.45,3.05],[37.0,2.85]];
const near_4_1 = [[.78,2.48],[.76,2.55],[.8,2.58],[.77,2.66],[.8,2.72],[.82,2.78],[.84,2.85],[.88,2.9],[.92,2.95],[.98,3.0],[1.03,3.05],[1.08,3.0],[1.14,3.03],[1.18,3.08],[1.22,3.22],[1.27,3.12],[1.32,3.15],[1.38,3.12],[1.42,3.05],[1.48,3.0],[1.53,2.93],[1.56,2.85],[1.58,2.75],[1.6,2.6],[1.57,2.5],[1.53,2.45],[1.5,2.38],[1.44,2.3],[1.38,2.27],[1.3,2.23],[1.2,2.23],[1.1,2.23],[1.0,2.26],[.92,2.32],[.86,2.35],[.8,2.36],[.82,3.0],[.76,2.9],[.9,3.1],[1.0,3.15],[1.1,3.22],[1.28,3.3],[1.4,3.25],[1.5,3.15],[1.58,3.0],[1.62,2.8],[.7,2.6],[.72,2.68],[1.05,3.3],[1.18,3.35],[1.34,3.33],[1.15,3.2],[1.45,3.12],[.88,3.02],[1.25,3.4],[.74,2.75],[.84,3.08],[1.1,2.2],[1.25,2.22],[1.35,2.24]];
const near_4_2 = [[3.09,3.27],[3.08,3.33],[3.11,3.3],[3.13,3.2],[3.06,3.2],[3.05,3.14],[3.03,3.06],[3.01,3.0],[2.99,2.92],[2.97,2.85],[2.95,2.78],[2.93,2.7],[2.92,2.62],[2.93,2.55],[2.92,2.45],[2.93,2.38],[2.95,2.3],[2.98,2.24],[3.02,2.25],[3.06,2.24],[3.1,2.28],[3.13,2.33],[3.15,2.4],[3.16,2.5],[3.18,2.6],[3.19,2.7],[3.18,2.8],[3.17,2.88],[3.16,2.96],[3.14,3.05],[3.13,3.12],[3.15,3.18],[3.18,3.03],[3.2,2.93],[3.2,2.78],[3.21,2.65],[3.18,2.5],[3.22,2.72],[2.9,2.42],[2.89,2.5],[2.9,2.6],[2.9,2.68],[2.91,2.75],[2.93,2.85],[2.95,2.92],[2.98,3.0],[3.0,3.1],[3.02,3.2],[3.06,3.28],[3.14,3.3],[3.08,3.4],[3.11,3.42],[3.05,3.45],[2.88,2.3],[2.85,2.4],[2.86,2.5],[2.93,2.28],[3.04,3.36],[3.17,3.1],[3.23,2.82]];
const near_4_3 = [[1.58,2.45],[1.56,2.55],[1.6,2.6],[1.62,2.7],[1.64,2.8],[1.68,2.88],[1.72,2.96],[1.76,3.02],[1.8,3.08],[1.84,3.15],[1.88,3.2],[1.96,3.22],[2.02,3.2],[2.08,3.1],[2.14,3.05],[2.2,2.95],[2.26,2.9],[2.3,2.8],[2.3,2.72],[2.29,2.6],[2.26,2.5],[2.2,2.42],[2.14,2.35],[2.05,2.3],[1.96,2.26],[1.85,2.22],[1.75,2.21],[1.68,2.25],[1.62,2.3],[1.58,2.38],[1.52,2.45],[1.52,2.6],[1.56,2.72],[1.58,2.85],[1.65,2.95],[1.7,3.05],[1.75,3.18],[1.85,3.28],[1.94,3.32],[2.0,3.3],[2.08,3.22],[2.15,3.15],[2.25,3.0],[2.32,2.92],[2.36,2.85],[2.38,2.7],[2.36,2.58],[2.34,2.45],[2.25,2.36],[1.65,2.18],[1.8,2.24],[1.72,3.3],[1.82,3.35],[2.05,3.3],[2.28,2.68],[2.42,2.78],[2.45,2.55],[1.48,2.32],[1.58,2.95],[2.15,2.28]];
const near_5_0 = [[35.18,66],[35.22,69],[35.28,71],[35.38,72],[35.5,72.5],[35.62,73],[35.68,76],[35.72,78],[35.82,79],[35.95,79],[36.08,78.5],[36.2,77.5],[36.3,75],[36.4,73],[36.5,71],[36.62,70],[36.72,68],[36.8,67.5],[36.92,66],[36.95,62],[36.98,60],[37.08,57],[37.12,55],[37.05,51],[37.0,47.5],[36.88,45],[36.72,44],[36.55,42.5],[36.4,42],[36.25,42.5],[36.1,43],[35.95,44],[35.8,45],[35.65,47],[35.55,49],[35.45,51],[35.38,55],[35.3,57],[35.28,61],[35.22,64],[35.25,67],[35.15,60],[35.2,55],[35.35,49],[35.5,46],[35.75,43],[36.3,40],[36.65,41],[37.12,52],[37.15,58],[37.02,64],[36.98,68],[36.7,71],[36.45,75],[36.3,78],[36.1,81],[35.8,82],[35.6,77],[35.35,74],[35.2,72],[35.65,80],[35.95,83],[36.15,84]];
const near_5_1 = [[.76,56],[.77,60],[.79,63],[.82,65],[.86,68],[.9,69],[.96,71],[1.0,73],[1.05,75],[1.1,77],[1.14,80],[1.2,80],[1.26,79],[1.32,79],[1.4,79],[1.45,75],[1.5,72],[1.56,69],[1.55,64],[1.54,59],[1.57,56],[1.53,52],[1.5,48],[1.44,46],[1.36,44.5],[1.28,43],[1.2,42],[1.1,43.5],[1.0,45],[.9,47],[.83,50],[.78,53],[.72,58],[.72,62],[.78,67],[.86,71],[.95,74],[1.02,78],[1.1,81],[1.2,83],[1.32,83],[1.42,82],[1.5,76],[1.6,72],[1.6,67],[1.6,55],[1.56,50],[1.48,43],[1.35,41],[1.22,39],[1.08,41],[.95,43],[.85,45],[.74,49],[.82,70],[.9,75],[1.15,84],[1.28,85],[1.42,86],[1.52,80],[.7,55],[1.12,47],[.92,65]];
const near_5_2 = [[2.91,50],[2.92,46],[2.93,53],[2.93,57],[2.94,61],[2.95,65],[2.96,68],[2.98,71],[3.0,74],[3.02,77],[3.06,79],[3.1,79],[3.14,76],[3.17,72],[3.19,68],[3.19,63],[3.19,58],[3.18,54],[3.15,50],[3.12,47],[3.08,44.5],[3.03,43],[2.98,42.5],[2.94,43.5],[2.9,45],[2.88,49],[2.89,54],[2.91,62],[2.93,69],[2.95,72],[2.98,76],[3.0,80],[3.05,82],[3.1,83],[3.13,80],[3.16,78],[3.2,74],[3.22,69],[3.22,62],[3.21,57],[3.17,48],[3.13,44],[3.05,41],[2.96,41],[2.9,42],[2.86,45],[2.85,50],[2.87,57],[2.9,67],[2.92,73],[2.95,77],[3.02,84],[3.07,86],[3.12,82],[3.18,80],[3.24,66],[3.25,63],[2.88,40],[2.93,39],[3.01,40]];
const near_5_3 = [[1.6,48],[1.62,54],[1.63,60],[1.65,64],[1.67,68],[1.7,72],[1.74,75],[1.8,78],[1.86,79],[1.94,79.5],[2.02,79],[2.08,75],[2.14,72],[2.2,68],[2.26,65],[2.3,61],[2.3,57],[2.26,52],[2.2,48],[2.1,46],[2.0,45],[1.9,43.5],[1.78,42],[1.7,43],[1.64,45],[1.56,48],[1.58,56],[1.6,63],[1.62,69],[1.66,74],[1.72,78],[1.8,81],[1.9,83],[1.98,83],[2.06,81],[2.14,77],[2.22,73],[2.28,69],[2.36,64],[2.34,58],[2.34,54],[2.3,49],[2.18,45],[2.05,43],[1.9,41],[1.72,40],[1.62,42],[1.55,44],[1.52,52],[1.55,60],[1.58,68],[1.84,86],[1.95,87],[2.15,80],[2.28,76],[2.38,69],[2.4,62],[2.42,57],[2.25,46],[1.6,38]];
const near_5_4 = [[2.2,60],[2.24,63],[2.26,66],[2.26,70],[2.28,73],[2.32,77],[2.38,79],[2.46,80],[2.55,81],[2.65,80],[2.72,78],[2.78,75],[2.86,73],[2.95,72],[3.0,70],[3.0,66],[3.1,65.5],[3.2,65],[3.24,62],[3.18,59],[3.18,55],[3.17,51],[3.1,49],[3.0,46],[2.9,45],[2.78,43.5],[2.68,42],[2.58,40.5],[2.48,42.5],[2.4,44],[2.33,47],[2.28,50],[2.24,54],[2.22,57],[2.2,52],[2.28,45],[2.22,48],[3.25,54],[3.3,50],[3.22,47],[3.12,46],[3.02,43],[2.9,42],[2.8,41],[2.5,39],[2.65,39],[3.3,60],[3.35,56],[3.4,51],[3.45,50],[3.28,64],[3.05,74],[2.9,76],[2.78,80],[2.6,84],[2.45,83],[2.35,83],[2.28,80],[2.22,72],[2.2,68],[3.08,71],[3.15,68]];

const panelHeat = {'1_0':heat_1_0,'2_0':heat_2_0,'2_1':heat_2_1,'3_0':heat_3_0,'3_1':heat_3_1,'3_2':heat_3_2,'4_0':heat_4_0,'4_1':heat_4_1,'4_2':heat_4_2,'4_3':heat_4_3,'5_0':heat_5_0,'5_1':heat_5_1,'5_2':heat_5_2,'5_3':heat_5_3,'5_4':heat_5_4};
const panelCont = {'1_0':cont_1_0,'2_0':cont_2_0,'2_1':cont_2_1,'3_0':cont_3_0,'3_1':cont_3_1,'3_2':cont_3_2,'4_0':cont_4_0,'4_1':cont_4_1,'4_2':cont_4_2,'4_3':cont_4_3,'5_0':cont_5_0,'5_1':cont_5_1,'5_2':cont_5_2,'5_3':cont_5_3,'5_4':cont_5_4};
const panelPts = {'1_0':pts_1_0.concat(near_1_0),'2_0':pts_2_0.concat(near_2_0),'2_1':pts_2_1.concat(near_2_1),'3_0':pts_3_0.concat(near_3_0),'3_1':pts_3_1.concat(near_3_1),'3_2':pts_3_2.concat(near_3_2),'4_0':pts_4_0.concat(near_4_0),'4_1':pts_4_1.concat(near_4_1),'4_2':pts_4_2.concat(near_4_2),'4_3':pts_4_3.concat(near_4_3),'5_0':pts_5_0.concat(near_5_0),'5_1':pts_5_1.concat(near_5_1),'5_2':pts_5_2.concat(near_5_2),'5_3':pts_5_3.concat(near_5_3),'5_4':pts_5_4.concat(near_5_4)};
const hists = [hist0,hist1,hist2,hist3,hist4,hist5];
const quants = [quant0,quant1,quant2,quant3,quant4,quant5];

const BLUE = '#4472b4';
const grays = [[0,'#ffffff'],[0.111,'#f4f4f4'],[0.222,'#e2e2e2'],[0.333,'#c8c8c8'],[0.444,'#adadad'],[0.556,'#8c8c8c'],[0.667,'#6c6c6c'],[0.778,'#4c4c4c'],[0.889,'#2e2e2e'],[1,'#0c0c0c']];

let data = [];
let layout = {width:1390, height:1390, autosize:false, showlegend:false, margin:{l:0,r:0,t:0,b:0},
  paper_bgcolor:'#fff', plot_bgcolor:'#fff', font:{family:'"DejaVu Sans"', size:13.9, color:'#000'}};

function axisBase(param, showLabels){
  return {
    range:[lo[param],hi[param]], tickmode:'array', tickvals:tickVals[param], ticktext:tickText[param],
    ticks:'outside', ticklen:5, tickwidth:1, tickcolor:'#000', showline:true, linecolor:'#000', linewidth:1, mirror:true,
    showgrid:false, zeroline:false, showticklabels:showLabels, tickangle:-45, tickfont:{size:13.9}, fixedrange:true
  };
}

let n = 0;
for (let r = 0; r < 6; r++) {
  for (let c = 0; c <= r; c++) {
    n++;
    const xa = 'x' + (n === 1 ? '' : n), ya = 'y' + (n === 1 ? '' : n);
    const left = 99.8 + 210 * c, top = 40.6 + 210 * r, size = 199.3;
    let xaxis = axisBase(c, r === 5);
    xaxis.domain = [left / 1390, (left + size) / 1390];
    xaxis.anchor = ya;
    if (r === 5) {
      xaxis.ticklabelshift = 8;
      xaxis.title = {text:names[c], standoff:18, font:{size:13.9}};
    }
    let yaxis;
    if (r === c) {
      yaxis = {range:[0,600], showticklabels:false, ticks:'', showline:true, linecolor:'#000', linewidth:1, mirror:true, showgrid:false, zeroline:false, fixedrange:true};
      // histograma en escalera
      const xs = [], ys = [];
      const dx = (hi[c] - lo[c]) / 20;
      hists[c].forEach((h, i) => { xs.push(lo[c] + i * dx); ys.push(h); });
      xs.push(hi[c]); ys.push(hists[c][19]);
      quants[c].forEach(q => data.push({type:'scatter', mode:'lines', x:[q,q], y:[0,600], xaxis:xa, yaxis:ya, hoverinfo:'skip', line:{color:'#000', width:1.1, dash:'13px,1.5px'}}));
      data.push({type:'scatter', mode:'lines', x:xs, y:ys, xaxis:xa, yaxis:ya, hoverinfo:'skip', line:{color:'#000', width:1.1, shape:'hv'}});
      data.push({type:'scatter', mode:'lines', x:[truths[c],truths[c]], y:[0,600], xaxis:xa, yaxis:ya, hoverinfo:'skip', line:{color:BLUE, width:1.1}});
    } else {
      yaxis = axisBase(r, c === 0);
      yaxis.ticklabelstandoff = 6;
      yaxis.ticklabelshift = 4;
      if (c === 0) {
        yaxis.title = {text:names[r], standoff:26, font:{size:13.9}};
      }
      const key = r + '_' + c;
      // celdas de densidad
      const z = [];
      for (let i = 0; i < 20; i++) z.push(new Array(20).fill(0));
      panelHeat[key].forEach(item => {
        for (let i = 0; i < item[2].length; i++) z[19 - item[0]][item[1] + i] = +item[2][i];
      });
      const dx = (hi[c] - lo[c]) / 20, dy = (hi[r] - lo[r]) / 20;
      data.push({type:'heatmap', z:z, x0:lo[c] + dx / 2, dx:dx, y0:lo[r] + dy / 2, dy:dy, xaxis:xa, yaxis:ya, zmin:0, zmax:9, colorscale:grays, showscale:false, hoverinfo:'skip'});
      const outer = panelCont[key][0];
      // mascara blanca: fuera del contorno externo no hay celdas
      const maskX = [lo[c],lo[c],hi[c],hi[c],lo[c],null].concat(outer.map(p => p[0]));
      const maskY = [hi[r],lo[r],lo[r],hi[r],hi[r],null].concat(outer.map(p => p[1]));
      data.push({type:'scatter', mode:'lines', x:maskX, y:maskY, xaxis:xa, yaxis:ya, hoverinfo:'skip', fill:'toself', fillcolor:'#ffffff', line:{width:0}});
      // puntos
      const pts = panelPts[key];
      data.push({type:'scatter', mode:'markers', x:pts.map(p => p[0]), y:pts.map(p => p[1]), xaxis:xa, yaxis:ya, hoverinfo:'skip',
        marker:{size:4, color:'#000', opacity:pts.map((p, i) => i % 3 === 2 ? 0.18 : 0.6), line:{width:0}}});
      panelCont[key].forEach(ct => {
        data.push({type:'scatter', mode:'lines', x:ct.map(p => p[0]), y:ct.map(p => p[1]), xaxis:xa, yaxis:ya, hoverinfo:'skip', line:{color:'#000', width:1.1}});
      });
      // valores verdaderos
      data.push({type:'scatter', mode:'lines', x:[truths[c],truths[c]], y:[lo[r],hi[r]], xaxis:xa, yaxis:ya, hoverinfo:'skip', line:{color:BLUE, width:1.1}});
      data.push({type:'scatter', mode:'lines', x:[lo[c],hi[c]], y:[truths[r],truths[r]], xaxis:xa, yaxis:ya, hoverinfo:'skip', line:{color:BLUE, width:1.1}});
      data.push({type:'scatter', mode:'markers', x:[truths[c]], y:[truths[r]], xaxis:xa, yaxis:ya, hoverinfo:'skip', marker:{symbol:'square', size:9, color:BLUE, line:{width:0}}});
    }
    yaxis.domain = [1 - (top + size) / 1390, 1 - top / 1390];
    yaxis.anchor = xa;
    layout['xaxis' + (n === 1 ? '' : n)] = xaxis;
    layout['yaxis' + (n === 1 ? '' : n)] = yaxis;
  }
}

Plotly.newPlot('graph', data, layout, {displayModeBar:false, staticPlot:true});
</script>
</body>
</html>
